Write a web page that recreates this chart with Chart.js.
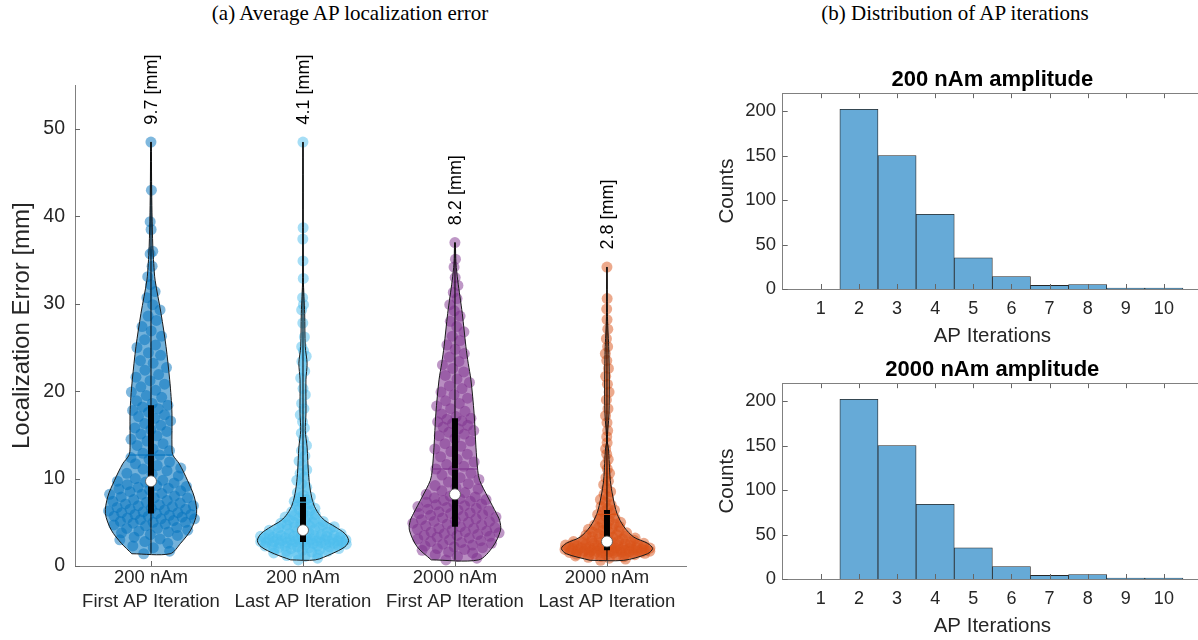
<!DOCTYPE html>
<html>
<head>
<meta charset="utf-8">
<script src="https://cdn.jsdelivr.net/npm/chart.js@4.4.1/dist/chart.umd.min.js"></script>
<style>
  html, body { margin: 0; padding: 0; background: #fff; overflow: hidden; width: 1198px; height: 640px; }
  .panel-title { position: absolute; font-family: 'Liberation Serif', 'Times New Roman', serif; font-size: 21px; line-height: 24px; color: #000; white-space: nowrap; transform: translateX(-50%); }
  canvas { position: absolute; left: 0; top: 0; }
  #violin { left: 0; top: 0; }
  .hist-frame { position: absolute; left: 700px; width: 498px; height: 310px; overflow: hidden; }
</style>
</head>
<body>
<div class="panel-title" style="left:350px; top:1px;">(a) Average AP localization error</div>
<div class="panel-title" style="left:955px; top:1px;">(b) Distribution of AP iterations</div>
<canvas id="violin" width="700" height="640" style="width:700px;height:640px"></canvas>
<div class="hist-frame" style="top:40px"><canvas id="histA" width="502" height="310" style="width:502px;height:310px"></canvas></div>
<div class="hist-frame" style="top:330px"><canvas id="histB" width="502" height="310" style="width:502px;height:310px"></canvas></div>

<script>
// ---------------- (a) localization error per condition ----------------
const amplitudeLabels = ['200 nAm', '200 nAm', '2000 nAm', '2000 nAm'];
const iterationLabels = ['First AP Iteration', 'Last AP Iteration', 'First AP Iteration', 'Last AP Iteration'];
const errorTicks = [0, 10, 20, 30, 40, 50];

// individual localization errors [mm]
const errFirst200 = [
  1.4, 1.7, 2.1, 2.3, 2.6, 2.8, 3.0, 3.1, 3.3, 3.5, 3.6, 3.8, 3.9, 4.0, 4.1, 4.3, 4.3, 4.4, 4.6, 4.7,
  4.8, 4.9, 5.0, 5.0, 5.1, 5.2, 5.3, 5.4, 5.4, 5.5, 5.6, 5.7, 5.7, 5.8, 5.9, 5.9, 6.0,
  6.1, 6.1, 6.2, 6.3, 6.4, 6.5, 6.5, 6.6, 6.7, 6.8, 6.9, 6.9, 7.0, 7.1, 7.2, 7.3, 7.4, 7.5, 7.6, 7.8,
  7.8, 7.9, 8.0, 8.2, 8.2, 8.3, 8.5, 8.6, 8.7, 8.8, 8.9, 9.0, 9.1, 9.2, 9.3, 9.5, 9.6, 9.7,
  9.8, 10.0, 10.3, 10.5, 10.6, 10.9, 11.1, 11.2, 11.5, 11.7, 11.9, 12.2, 12.4, 12.7, 12.9, 13.2, 13.4,
  13.8, 14.0, 14.3, 14.5, 14.9, 15.1, 15.4, 15.6, 15.8, 16.1, 16.3, 16.6, 16.9, 17.1, 17.3, 17.6, 17.8,
  18.0, 18.2, 18.4,
  18.6, 18.9, 19.3, 19.5, 19.9, 20.1, 20.5, 20.8, 21.2, 21.6, 21.9, 22.4, 22.7, 23.2, 23.5, 24.1, 24.4,
  25.0, 25.3, 25.9, 26.3, 26.9, 27.4, 28.1, 28.6, 29.3, 29.9, 30.7, 31.4, 32.2, 33.1, 34.3, 35.7, 36.0,
  38.5, 39.4, 43.0, 48.5
];
const errLast200 = [
  0.7, 0.9, 1.1, 1.2, 1.3, 1.4, 1.5, 1.6, 1.7, 1.7, 1.8, 1.9, 1.9, 2.0, 2.0, 2.1, 2.1, 2.2, 2.2, 2.3,
  2.3, 2.3, 2.4, 2.4, 2.4, 2.5, 2.5, 2.5, 2.6, 2.6, 2.6, 2.6, 2.7, 2.7, 2.7, 2.7, 2.75,
  2.8, 2.8, 2.8, 2.8, 2.9, 2.9, 2.9, 2.9, 3.0, 3.0, 3.0, 3.0, 3.1, 3.1, 3.1, 3.1, 3.2, 3.2, 3.2,
  3.3, 3.3, 3.3, 3.4, 3.4, 3.4, 3.5, 3.5, 3.5, 3.6, 3.6, 3.6, 3.7, 3.7, 3.8, 3.8, 3.9, 4.0, 4.1,
  4.2, 4.2, 4.3, 4.3, 4.4, 4.4, 4.5, 4.5, 4.6, 4.7, 4.7, 4.8, 4.9, 5.0, 5.0, 5.1, 5.2, 5.3, 5.4, 5.5,
  5.6, 5.7, 5.8, 5.9, 6.0, 6.2, 6.3, 6.5, 6.6, 6.8, 7.0, 7.1, 7.3, 7.4, 7.6, 7.8, 7.9,
  8.1, 8.4, 9.0, 9.4, 9.8, 10.2, 10.6, 11.0, 11.5, 12.0, 12.6, 13.2, 13.8, 14.5, 15.2, 15.8, 16.5,
  17.3, 18.0, 18.6, 19.6, 20.3, 21.5, 22.3, 23.4, 24.0, 24.6, 25.1, 26.2, 27.8, 29.3, 29.9, 30.7,
  32.9, 34.9, 37.4, 38.7, 48.5
];
const errFirst2000 = [
  0.7, 0.9, 1.1, 1.3, 1.5, 1.6, 1.8, 1.9, 2.0, 2.1, 2.2, 2.3, 2.4, 2.5, 2.6, 2.7, 2.8, 2.9, 3.0, 3.1,
  3.2, 3.3, 3.4, 3.5, 3.5, 3.6, 3.7, 3.8, 3.9, 3.9, 4.0, 4.1, 4.2, 4.3, 4.3, 4.4, 4.5,
  4.6, 4.7, 4.8, 4.9, 5.0, 5.1, 5.1, 5.2, 5.3, 5.4, 5.5, 5.6, 5.7, 5.8, 5.9, 6.0, 6.0, 6.1, 6.2, 6.3,
  6.4, 6.5, 6.6, 6.7, 6.8, 6.9, 7.0, 7.1, 7.2, 7.3, 7.4, 7.5, 7.6, 7.7, 7.8, 7.9, 8.0, 8.2,
  8.4, 8.6, 8.8, 9.0, 9.2, 9.4, 9.6, 9.9, 10.1, 10.4, 10.6, 10.9, 11.1, 11.4, 11.6, 11.9, 12.2, 12.5,
  12.8, 13.1, 13.4, 13.7, 14.0, 14.3, 14.6, 14.9, 15.1, 15.3, 15.5, 15.7, 15.9, 16.1, 16.3, 16.5,
  16.6, 16.8, 16.9,
  17.1, 17.4, 17.7, 18.0, 18.3, 18.6, 18.9, 19.2, 19.6, 19.9, 20.3, 20.6, 21.0, 21.4, 21.8, 22.2,
  22.6, 23.0, 23.4, 23.9, 24.3, 24.8, 25.3, 25.8, 26.3, 26.8, 27.4, 28.0, 28.6, 29.2, 29.9, 30.6,
  31.3, 32.1, 33.0, 34.2, 35.1, 37.0
];
const errLast2000 = [
  0.65, 0.8, 0.9, 1.0, 1.05, 1.1, 1.15, 1.2, 1.25, 1.3, 1.3, 1.35, 1.4, 1.4, 1.45, 1.5, 1.5, 1.5,
  1.55, 1.55, 1.6, 1.6, 1.6, 1.65, 1.65, 1.65, 1.7, 1.7, 1.7, 1.7, 1.75, 1.75, 1.75, 1.8, 1.8, 1.8, 1.8,
  1.85, 1.85, 1.9, 1.9, 1.9, 1.95, 1.95, 2.0, 2.0, 2.0, 2.05, 2.05, 2.1, 2.1, 2.1, 2.15, 2.2, 2.2,
  2.2, 2.25, 2.3, 2.3, 2.35, 2.35, 2.4, 2.4, 2.45, 2.45, 2.5, 2.5, 2.55, 2.6, 2.6, 2.65, 2.7, 2.7,
  2.75, 2.8,
  2.85, 2.9, 2.95, 3.0, 3.05, 3.1, 3.15, 3.2, 3.3, 3.35, 3.4, 3.5, 3.55, 3.6, 3.7, 3.8, 3.85, 3.9,
  4.0, 4.1, 4.2, 4.3, 4.4, 4.5, 4.6, 4.7, 4.8, 4.9, 5.0, 5.2, 5.4, 5.5, 5.7, 5.9, 6.0, 6.2, 6.4,
  6.6, 6.8, 7.0, 7.3, 7.6, 7.9, 8.2, 8.5, 8.9, 9.3, 9.7, 10.1, 10.6, 11.1, 11.6, 12.2, 12.8, 13.4,
  14.1, 14.8, 15.5, 16.4, 17.2, 18.0, 19.0, 19.9, 20.8, 21.7, 22.6, 23.5, 24.3, 25.1, 26.0, 27.1,
  28.2, 29.4, 30.6, 34.2
];
const groupValues = [errFirst200, errLast200, errFirst2000, errLast2000];

// summary statistics per condition [mm]
const medians        = [9.7, 4.1, 8.2, 2.8];
const lowerQuartiles = [6.0, 2.75, 4.5, 1.8];
const upperQuartiles = [18.4, 7.9, 16.9, 6.4];
const means          = [12.7, 7.3, 11.1, 5.9];

// kernel density profiles (error level [mm] -> relative density, 1 = widest)
const levFirst200 = [1.4, 2.6, 4.1, 6.0, 7.9, 9.8, 11.7, 12.7, 13.6, 17.4, 19.4, 21.3, 25.1, 28.9, 32.7, 34.6, 36.5, 40.4, 44.0, 48.5];
const denFirst200 = [0.42, 0.65, 0.87, 1.00, 0.95, 0.80, 0.62, 0.48, 0.46, 0.46, 0.44, 0.41, 0.33, 0.22, 0.09, 0.06, 0.04, 0.022, 0.013, 0.006];
const levLast200 = [0.7, 1.4, 2.2, 2.9, 3.7, 4.5, 5.2, 6.0, 7.1, 8.7, 10.6, 13.6, 15.5, 17.4, 21.3, 23.2, 25.1, 28.9, 30.8, 33.0, 48.5];
const denLast200 = [0.27, 0.63, 0.92, 1.00, 0.92, 0.70, 0.48, 0.34, 0.23, 0.16, 0.12, 0.09, 0.05, 0.065, 0.065, 0.09, 0.05, 0.037, 0.022, 0.007, 0.002];
const levFirst2000 = [0.7, 2.2, 4.1, 5.2, 6.0, 7.9, 9.8, 10.9, 13.6, 17.4, 21.3, 23.2, 25.1, 28.9, 30.8, 32.7, 34.6, 37.0];
const denFirst2000 = [0.52, 0.83, 1.00, 0.98, 0.91, 0.72, 0.54, 0.50, 0.46, 0.42, 0.35, 0.29, 0.24, 0.16, 0.11, 0.06, 0.022, 0.007];
const levLast2000 = [0.65, 1.4, 2.0, 2.6, 3.3, 4.5, 6.0, 7.9, 9.8, 11.7, 13.6, 14.3, 17.4, 21.3, 25.1, 27.0, 29.0, 34.2];
const denLast2000 = [0.37, 0.89, 1.00, 0.89, 0.59, 0.37, 0.22, 0.13, 0.073, 0.051, 0.029, 0.005, 0.044, 0.051, 0.038, 0.022, 0.009, 0.002];
const groupLevels  = [levFirst200, levLast200, levFirst2000, levLast2000];
const groupDensity = [denFirst200, denLast200, denFirst2000, denLast2000];

// ---------------- (b) AP iteration histograms ----------------
const iterationBins = [1, 2, 3, 4, 5, 6, 7, 8, 9, 10];
const counts200  = [0, 202, 150, 84, 35, 14, 4, 5, 1, 1];
const counts2000 = [0, 202, 150, 84, 35, 14, 4, 5, 1, 1];
const countTicks = [0, 50, 100, 150, 200];

// ---------------- styling ----------------
const FONT = "'Liberation Sans', Arial, Helvetica, sans-serif";
Chart.defaults.font.family = FONT;
const ink = '#262626';
const axisGray = '#808080';
const palette = [[0, 114, 189], [77, 190, 238], [126, 47, 142], [217, 83, 25]];
const rgba = (c, a) => `rgba(${c[0]},${c[1]},${c[2]},${a})`;
const HALF = 0.3;           // widest violin half-width, in category units

function densityAt(levels, dens, v) {
  if (v < levels[0] || v > levels[levels.length - 1]) return 0;
  for (let k = 1; k < levels.length; k++) {
    if (v <= levels[k]) {
      const t = (v - levels[k - 1]) / (levels[k] - levels[k - 1]);
      return dens[k - 1] + t * (dens[k] - dens[k - 1]);
    }
  }
  return dens[dens.length - 1];
}
// evenly spread horizontal offsets in [-1, 1] for the swarm
const spread = k => (((k * 0.6180339887 + 0.31) % 1) * 2 - 1);

// short inward tick marks on the axes (and a top edge if asked)
const inwardTicks = {
  id: 'inwardTicks',
  afterDatasetsDraw(chart, args, opts) {
    const { ctx, chartArea: a, scales: { x, y } } = chart;
    const L = 5;
    ctx.save();
    ctx.strokeStyle = opts.color || '#666';
    ctx.lineWidth = 1;
    ctx.beginPath();
    x.ticks.forEach(t => {
      const px = Math.round(x.getPixelForValue(t.value)) + 0.5;
      ctx.moveTo(px, a.bottom); ctx.lineTo(px, a.bottom - L);
      if (opts.box) { ctx.moveTo(px, a.top); ctx.lineTo(px, a.top + L); }
    });
    y.ticks.forEach(t => {
      const py = Math.round(y.getPixelForValue(t.value)) + 0.5;
      ctx.moveTo(a.left, py); ctx.lineTo(a.left + L, py);
    });
    ctx.stroke();
    if (opts.box) {
      ctx.strokeStyle = axisGray;
      ctx.beginPath();
      ctx.moveTo(a.left, Math.round(a.top) + 0.5); ctx.lineTo(chart.width, Math.round(a.top) + 0.5);
      ctx.stroke();
    }
    ctx.restore();
  }
};

// rotated median labels above each violin
const medianLabels = {
  id: 'medianLabels',
  afterDatasetsDraw(chart) {
    const { ctx, scales: { x, y } } = chart;
    ctx.save();
    ctx.font = `18px ${FONT}`;
    ctx.fillStyle = '#000';
    ctx.textAlign = 'left';
    ctx.textBaseline = 'middle';
    groupValues.forEach((vals, i) => {
      const top = Math.max(...vals);
      const px = x.getPixelForValue(i + 1) + 1;
      const py = y.getPixelForValue(top + 2);
      ctx.save();
      ctx.translate(px, py);
      ctx.rotate(-Math.PI / 2);
      ctx.fillText(medians[i].toFixed(1) + ' [mm]', 0, 0);
      ctx.restore();
    });
    ctx.restore();
  }
};

// ---------------- violin chart ----------------
const violinSets = [];
groupValues.forEach((vals, i) => {
  const c = i + 1;
  const col = palette[i];
  const lev = groupLevels[i], den = groupDensity[i];

  const outline = [];
  lev.forEach((v, k) => outline.push({ x: c - den[k] * HALF, y: v }));
  for (let k = lev.length - 1; k >= 0; k--) outline.push({ x: c + den[k] * HALF, y: lev[k] });
  outline.push({ x: outline[0].x, y: outline[0].y });

  violinSets.push({
    data: outline, showLine: true, fill: 'shape', tension: 0.3,
    backgroundColor: rgba(col, 0.55), borderWidth: 0, pointRadius: 0, order: 60
  });
  violinSets.push({
    data: vals.map((v, k) => ({ x: c + spread(k) * densityAt(lev, den, v) * HALF, y: v })),
    showLine: false, pointRadius: 5.5, pointBorderWidth: 0,
    backgroundColor: rgba(col, 0.5), pointBackgroundColor: rgba(col, 0.5), order: 50
  });
  violinSets.push({
    data: outline, showLine: true, fill: false, tension: 0.3,
    borderColor: '#1a1a1a', borderWidth: 1, pointRadius: 0, order: 40
  });
  violinSets.push({
    data: [{ x: c, y: Math.min(...vals) }, { x: c, y: Math.max(...vals) }],
    showLine: true, borderColor: '#000', borderWidth: 1, pointRadius: 0, order: 30
  });
  violinSets.push({
    data: [{ x: c, y: lowerQuartiles[i] }, { x: c, y: upperQuartiles[i] }],
    showLine: true, borderColor: '#000', borderWidth: 6, borderCapStyle: 'butt', pointRadius: 0, order: 20
  });
  const mw = densityAt(lev, den, means[i]) * HALF;
  violinSets.push({
    data: [{ x: c - mw, y: means[i] }, { x: c + mw, y: means[i] }],
    showLine: true, borderColor: rgba(col, 1), borderWidth: 1, pointRadius: 0, order: 15
  });
  violinSets.push({
    data: [{ x: c, y: medians[i] }],
    showLine: false, pointRadius: 5.5, pointBackgroundColor: '#fff', backgroundColor: '#fff',
    pointBorderColor: '#505050', pointBorderWidth: 0.8, order: 10
  });
});

new Chart(document.getElementById('violin'), {
  type: 'scatter',
  data: { datasets: violinSets },
  options: {
    responsive: false, animation: false, events: [],
    layout: { padding: { top: 85.3, right: 14, left: 0, bottom: 0 } },
    plugins: { legend: { display: false }, tooltip: { enabled: false }, inwardTicks: { color: '#666', box: false } },
    scales: {
      x: {
        type: 'linear', min: 0.5, max: 4.52,
        afterBuildTicks: s => { s.ticks = amplitudeLabels.map((_, i) => ({ value: i + 1 })); },
        afterFit: s => { s.height = 74; },
        grid: { display: false, drawTicks: false },
        border: { display: true, color: axisGray, width: 1 },
        ticks: {
          autoSkip: false, maxRotation: 0, minRotation: 0, padding: 0, color: ink,
          font: { size: 18.5, lineHeight: 1.31 },
          callback: (v, i) => [amplitudeLabels[i], iterationLabels[i]]
        }
      },
      y: {
        min: 0, max: 55,
        afterBuildTicks: s => { s.ticks = errorTicks.map(v => ({ value: v })); },
        afterFit: s => { s.width = 75; },
        grid: { display: false, drawTicks: false },
        border: { display: true, color: axisGray, width: 1 },
        ticks: { padding: 10, color: ink, font: { size: 19.5 } },
        title: { display: true, text: 'Localization Error [mm]', color: ink, font: { size: 24 }, padding: { top: 8, bottom: 0 } }
      }
    }
  },
  plugins: [inwardTicks, medianLabels]
});

// ---------------- histograms ----------------
// each axes box runs slightly past the right edge of its frame
function histogram(id, titleText, counts) {
  return new Chart(document.getElementById(id), {
    type: 'bar',
    data: {
      datasets: [{
        data: iterationBins.map((b, i) => ({ x: b, y: counts[i] })).filter(p => p.y > 0),
        backgroundColor: 'rgb(102,170,215)', borderColor: '#262626', borderWidth: 0.8,
        barPercentage: 1, categoryPercentage: 1
      }]
    },
    options: {
      responsive: false, animation: false, events: [],
      layout: { padding: 0 },
      plugins: {
        legend: { display: false }, tooltip: { enabled: false },
        title: { display: true, text: titleText, color: '#000', fullSize: false,
                 font: { size: 22, weight: 'bold' }, padding: { top: 26.8, bottom: 0 } },
        inwardTicks: { color: '#666', box: true }
      },
      scales: {
        x: {
          type: 'linear', min: 0, max: 11, offset: false,
          afterBuildTicks: s => { s.ticks = iterationBins.map(v => ({ value: v })); },
          afterFit: s => { s.height = 61; },
          grid: { display: false, drawTicks: false },
          border: { display: true, color: axisGray, width: 1 },
          ticks: { padding: 9.5, color: ink, font: { size: 18 } },
          title: { display: true, text: 'AP Iterations', color: ink, font: { size: 20.5 }, padding: { top: 0, bottom: 1 } }
        },
        y: {
          min: 0, max: 220,
          afterBuildTicks: s => { s.ticks = countTicks.map(v => ({ value: v })); },
          afterFit: s => { s.width = 82.7; },
          grid: { display: false, drawTicks: false },
          border: { display: true, color: axisGray, width: 1 },
          ticks: { padding: 6.7, color: ink, font: { size: 18.5 } },
          title: { display: true, text: 'Counts', color: ink, font: { size: 20.5 }, padding: { top: 14.7, bottom: 0 } }
        }
      }
    },
    plugins: [inwardTicks]
  });
}
histogram('histA', '200 nAm amplitude', counts200);
histogram('histB', '2000 nAm amplitude', counts2000);
</script>
</body>
</html>
